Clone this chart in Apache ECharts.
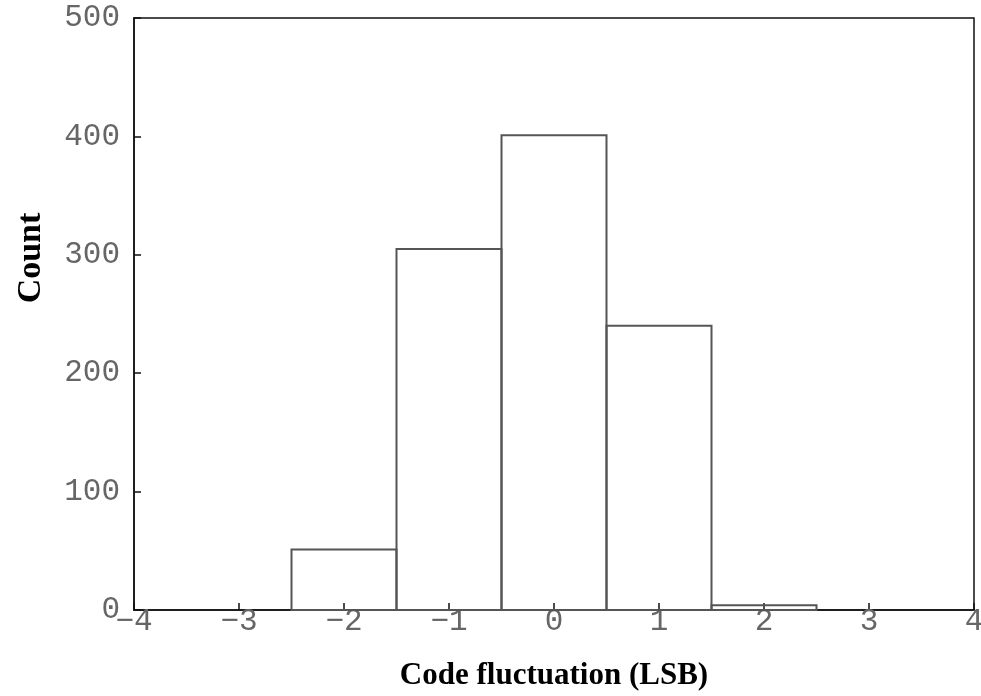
<!DOCTYPE html>
<html>
<head>
<meta charset="utf-8">
<script src="https://cdn.jsdelivr.net/npm/echarts@6/dist/echarts.min.js"></script>
<style>
  html, body { margin: 0; padding: 0; background: #fff; }
  #chart { width: 981px; height: 696px; }
</style>
</head>
<body>
<div id="chart"></div>
<script>
  // bin centres and counts
  const binCenters = [-2, -1, 0, 1, 2]
  const counts = [51, 305, 401, 240, 4]
  const binWidth = 1
  const xTicks = [-4, -3, -2, -1, 0, 1, 2, 3, 4]
  const yTicks = [0, 100, 200, 300, 400, 500]

  const chart = echarts.init(document.getElementById('chart'))
  const tickFont = { fontFamily: 'Liberation Mono', fontSize: 31, color: '#666' }
  const titleFont = { fontFamily: 'Liberation Serif', fontWeight: 'bold', color: '#000' }

  const option = {
    animation: false,
    grid: {
      left: 134, right: 7, top: 18, bottom: 86,
      outerBoundsMode: 'none', containLabel: false,
      show: true, borderColor: '#111', borderWidth: 1.5,
    },
    xAxis: {
      type: 'value',
      min: xTicks[0],
      max: xTicks[xTicks.length - 1],
      interval: 1,
      name: 'Code fluctuation (LSB)',
      nameLocation: 'middle',
      nameGap: 50,
      nameTextStyle: Object.assign({ fontSize: 31 }, titleFont),
      axisLine: { onZero: false, lineStyle: { color: '#111', width: 1.5 } },
      axisTick: { inside: true, length: 7, lineStyle: { color: '#111', width: 1.5 } },
      splitLine: { show: false },
      axisLabel: Object.assign({ margin: -4, formatter: v => String(v).replace('-', '\u2212') }, tickFont),
    },
    yAxis: {
      type: 'value',
      min: yTicks[0],
      max: yTicks[yTicks.length - 1],
      interval: 100,
      name: 'Count',
      nameLocation: 'middle',
      nameGap: 86,
      nameTextStyle: Object.assign({ fontSize: 34, padding: [0, 0, 0, 112] }, titleFont),
      axisLine: { show: true, onZero: false, lineStyle: { color: '#111', width: 1.5 } },
      axisTick: { show: true, inside: true, length: 7, lineStyle: { color: '#111', width: 1.5 } },
      splitLine: { show: false },
      axisLabel: Object.assign({ margin: 14, padding: [5, 0, 0, 0] }, tickFont),
    },
    series: [
      {
        type: 'custom',
        data: binCenters.map((c, i) => [c, counts[i]]),
        renderItem: function (params, api) {
          const x = api.value(0)
          const y = api.value(1)
          const p0 = api.coord([x - binWidth / 2, y])
          const p1 = api.coord([x + binWidth / 2, 0])
          return {
            type: 'rect',
            shape: { x: p0[0], y: p0[1], width: p1[0] - p0[0], height: p1[1] - p0[1] },
            style: { fill: 'transparent', stroke: '#555', lineWidth: 2 },
          }
        },
      },
    ],
  }
  chart.setOption(option)
</script>
</body>
</html>
